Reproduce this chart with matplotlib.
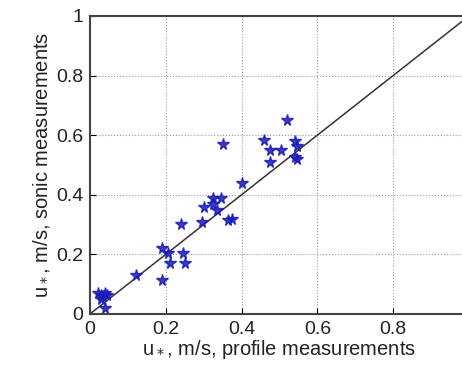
import matplotlib
matplotlib.use("Agg")
import matplotlib.pyplot as plt

plt.rcParams['font.family'] = ['Liberation Sans', 'DejaVu Sans']

profile_u = [0.02, 0.03, 0.04, 0.03, 0.045, 0.04, 0.035, 0.12,
             0.19, 0.19, 0.205, 0.21, 0.245, 0.25, 0.24,
             0.296, 0.30, 0.325, 0.345, 0.335, 0.325, 0.35,
             0.365, 0.375, 0.40, 0.46, 0.475, 0.505, 0.475,
             0.52, 0.54, 0.545, 0.54, 0.545]
sonic_u = [0.07, 0.065, 0.07, 0.05, 0.065, 0.02, 0.06, 0.13,
           0.115, 0.22, 0.205, 0.17, 0.205, 0.17, 0.30,
           0.31, 0.36, 0.39, 0.39, 0.35, 0.37, 0.57,
           0.315, 0.32, 0.44, 0.585, 0.55, 0.55, 0.51,
           0.65, 0.58, 0.565, 0.525, 0.52]
line_x = [0, 1]
x_ticks = [0, 0.2, 0.4, 0.6, 0.8]
x_tick_labels = ['0', '0.2', '0.4', '0.6', '0.8']
y_ticks = [0, 0.2, 0.4, 0.6, 0.8, 1]
y_tick_labels = ['0', '0.2', '0.4', '0.6', '0.8', '1']

fig = plt.figure(figsize=(4.62, 3.71), dpi=100)
ax = fig.add_axes([0.195, 0.154, 0.82, 0.803])
ax.plot(line_x, line_x, color='#333333', lw=1.1)
ax.plot(profile_u, sonic_u, linestyle='none', marker='*', color='#1a1ab8',
        markersize=8.5, alpha=0.85)
ax.set_xlim(0, 1)
ax.set_ylim(0, 1)
ax.set_xticks(x_ticks)
ax.set_xticklabels(x_tick_labels)
ax.set_yticks(y_ticks)
ax.set_yticklabels(y_tick_labels)
ax.grid(True, linestyle=':', color='#999999', lw=0.8)
ax.axvline(1, color='#999999', lw=0.8, linestyle=':')
ax.tick_params(direction='in', labelsize=14, length=4, pad=5, labelcolor='#222222')
for s in ax.spines.values():
    s.set_linewidth(1.5)
    s.set_color('#444444')
ax.set_xlabel('u$_*$, m/s, profile measurements', fontsize=14.5, labelpad=0, color='#222222')
ax.set_ylabel('u$_*$, m/s, sonic measurements', fontsize=14.5, labelpad=3, color='#222222')
fig.savefig('out.png', dpi=100)
